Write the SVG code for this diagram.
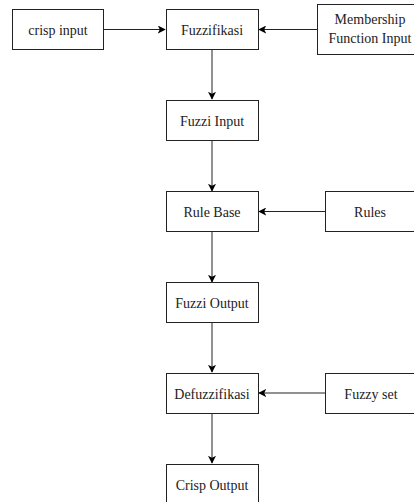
<svg xmlns="http://www.w3.org/2000/svg" width="414" height="502" viewBox="0 0 414 502">
<defs>
<marker id="arr" viewBox="0 0 10 10" refX="9" refY="5" markerWidth="8" markerHeight="8" markerUnits="userSpaceOnUse" orient="auto">
<path d="M0,0 L10,5 L0,10 L2.5,5 Z" fill="#000"/>
</marker>
<style>
.box{fill:#fff;stroke:#222;stroke-width:1}
.t{font-family:"Liberation Serif","Times New Roman",serif;font-size:14px;fill:#222;text-anchor:middle}
.c{stroke:#222;stroke-width:1;fill:none;marker-end:url(#arr)}
</style>
</defs>
<rect width="414" height="502" fill="#fff"/>
<g id="connectors">
<line class="c" x1="104" y1="29.5" x2="165" y2="29.5"/>
<line class="c" x1="317" y1="29.5" x2="259" y2="29.5"/>
<line class="c" x1="212" y1="50" x2="212" y2="99"/>
<line class="c" x1="212" y1="140" x2="212" y2="191"/>
<line class="c" x1="325" y1="211.5" x2="259" y2="211.5"/>
<line class="c" x1="212" y1="232" x2="212" y2="282"/>
<line class="c" x1="212" y1="322" x2="212" y2="372"/>
<line class="c" x1="325" y1="393" x2="259" y2="393"/>
<line class="c" x1="212" y1="413" x2="212" y2="463"/>
</g>
<g id="crisp-input"><rect class="box" x="12.5" y="9.5" width="91" height="40"/><text class="t" x="58" y="34.5">crisp input</text></g>
<g id="fuzzifikasi"><rect class="box" x="166.5" y="9.5" width="92" height="40"/><text class="t" x="212" y="34.5">Fuzzifikasi</text></g>
<g id="membership"><rect class="box" x="317.5" y="4.5" width="104" height="50"/><text class="t" x="370" y="24">Membership</text><text class="t" x="370" y="43">Function Input</text></g>
<g id="fuzzi-input"><rect class="box" x="166.5" y="100.5" width="92" height="40"/><text class="t" x="212" y="125.5">Fuzzi Input</text></g>
<g id="rule-base"><rect class="box" x="166.5" y="191.5" width="92" height="40"/><text class="t" x="212" y="216.5">Rule Base</text></g>
<g id="rules"><rect class="box" x="325.5" y="191.5" width="92" height="40"/><text class="t" x="370" y="216.5">Rules</text></g>
<g id="fuzzi-output"><rect class="box" x="166.5" y="282.5" width="92" height="40"/><text class="t" x="212" y="307.5">Fuzzi Output</text></g>
<g id="defuzzifikasi"><rect class="box" x="166.5" y="373.5" width="92" height="40"/><text class="t" x="212" y="398.5">Defuzzifikasi</text></g>
<g id="fuzzy-set"><rect class="box" x="325.5" y="373.5" width="92" height="40"/><text class="t" x="371" y="398.5">Fuzzy set</text></g>
<g id="crisp-output"><rect class="box" x="166.5" y="464.5" width="92" height="40"/><text class="t" x="212" y="489.5">Crisp Output</text></g>
</svg>
